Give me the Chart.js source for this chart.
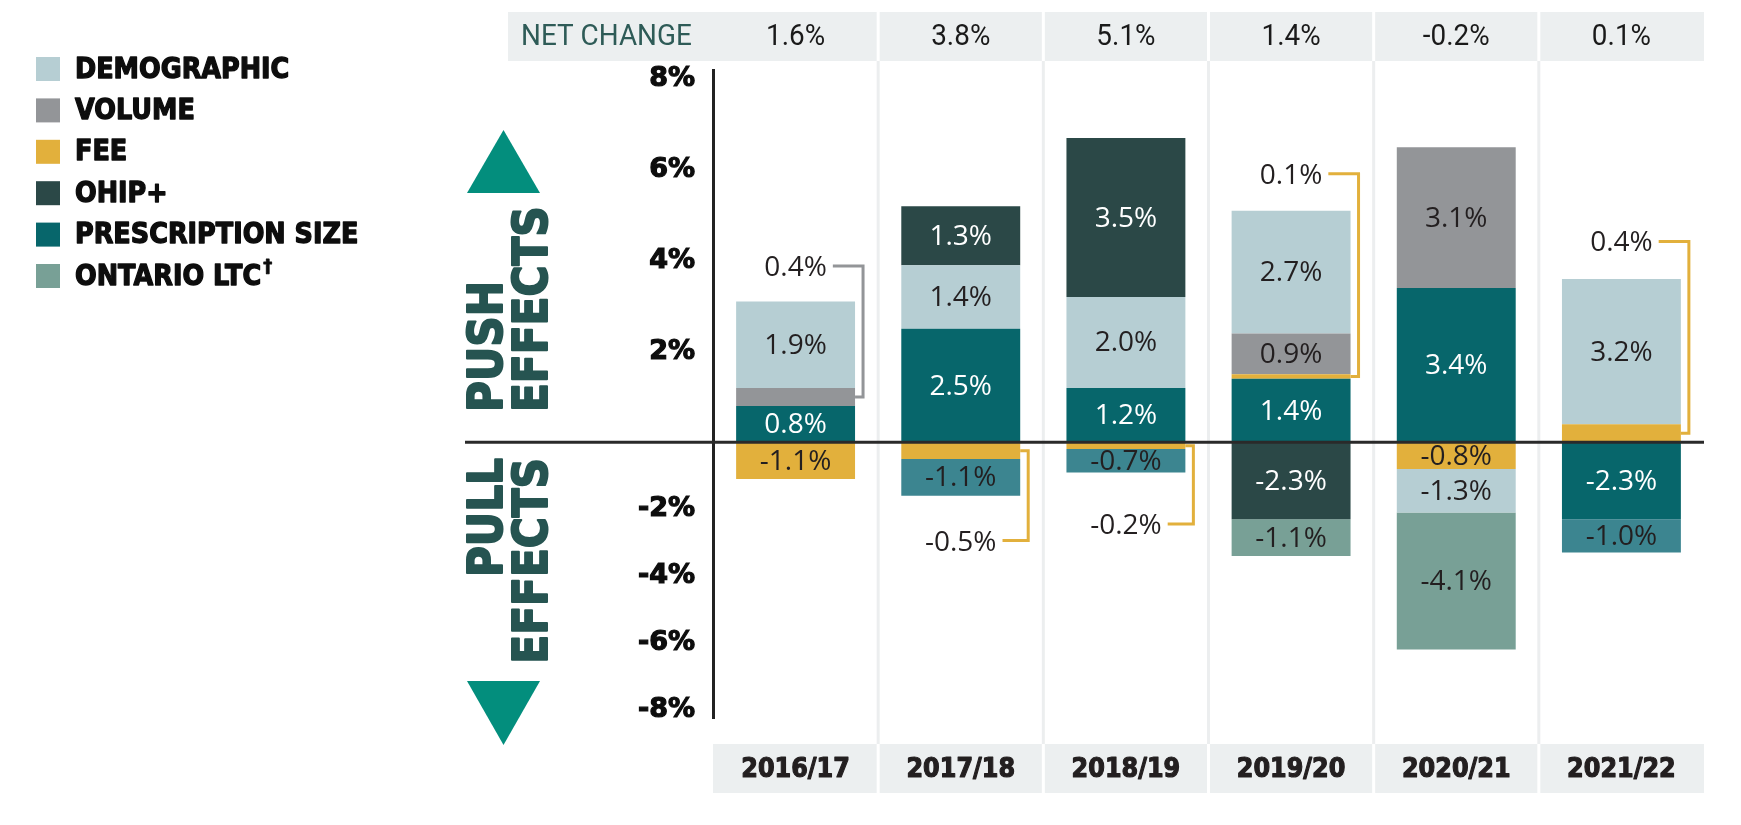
<!DOCTYPE html>
<html><head><meta charset="utf-8">
<script src="https://cdn.jsdelivr.net/npm/chart.js@4.4.1/dist/chart.umd.min.js"></script>
<style>html,body{margin:0;padding:0;background:#fff;}#wrap{width:1741px;height:825px;}</style>
</head><body><div id="wrap"><canvas id="c" width="1741" height="825"></canvas></div>
<script>
// ---------- data ----------
const years = ['2016/17', '2017/18', '2018/19', '2019/20', '2020/21', '2021/22'];
const netChange = [1.6, 3.8, 5.1, 1.4, -0.2, 0.1];
const prescriptionSize = [0.8, 2.5, 1.2, 1.4, 3.4, -2.3];
const fee = [-1.1, -0.5, -0.2, 0.1, -0.8, 0.4];
const volume = [0.4, null, null, 0.9, 3.1, null];
const demographic = [1.9, 1.4, 2.0, 2.7, -1.3, 3.2];
const ohipPlus = [null, 1.3, 3.5, -2.3, null, null];
const otherPull = [null, -1.1, -0.7, null, null, -1.0];
const ontarioLtc = [null, null, null, -1.1, -4.1, null];
const yTicks = [-8, -6, -4, -2, 2, 4, 6, 8];
const legendLabels = ['DEMOGRAPHIC', 'VOLUME', 'FEE', 'OHIP+', 'PRESCRIPTION SIZE', 'ONTARIO LTC†'];
// callouts: series, year index, level (%) where the label sits
const calloutSeries = ['VOLUME', 'FEE', 'FEE', 'FEE', 'FEE'];
const calloutYear = [0, 1, 2, 3, 5];
const calloutLevel = [3.84, -3.0, -2.5, 5.87, 4.38];

// ---------- piecewise scale: push side and pull side use different steps ----------
const LinearScale = Chart.LinearScale || Chart.registry.getScale('linear');
class PushPullScale extends LinearScale {
  _pp() { const r = this.options.negRatio; return { r, span: this.max + (-this.min) * r, z: (-this.min) * r }; }
  getPixelForValue(value) {
    if (value === null || value === undefined || isNaN(value)) return NaN;
    const { r, span, z } = this._pp();
    const t = value >= 0 ? (z + value) / span : (value - this.min) * r / span;
    return this.getPixelForDecimal(t);
  }
  getValueForPixel(pixel) {
    const { r, span, z } = this._pp();
    const t = this.getDecimalForPixel(pixel) * span;
    return t >= z ? t - z : t / r + this.min;
  }
}
PushPullScale.id = 'pushpull';
PushPullScale.defaults = Object.assign({}, LinearScale.defaults);
Chart.register(PushPullScale);

const COL = {
  pres: '#07666b', fee: '#e2b03c', vol: '#939598', dem: '#b6ced3',
  ohip: '#2b4847', other: '#3c8590', ltc: '#78a096'
};
const DARK = '#231f20';

const datasets = [
  { label: 'PRESCRIPTION SIZE', data: prescriptionSize, backgroundColor: COL.pres, labelColor: '#ffffff' },
  { label: 'FEE', data: fee, backgroundColor: COL.fee, labelColor: DARK },
  { label: 'VOLUME', data: volume, backgroundColor: COL.vol, labelColor: DARK },
  { label: 'DEMOGRAPHIC', data: demographic, backgroundColor: COL.dem, labelColor: DARK },
  { label: 'OHIP+', data: ohipPlus, backgroundColor: COL.ohip, labelColor: '#ffffff' },
  { label: 'OTHER', data: otherPull, backgroundColor: COL.other, labelColor: DARK },
  { label: 'ONTARIO LTC†', data: ontarioLtc, backgroundColor: COL.ltc, labelColor: DARK }
].map(d => Object.assign(d, { borderWidth: 0, barPercentage: 0.72, categoryPercentage: 1.0 }));

function txt(ctx, s, x, y, font, color, align, sx, stroke) {
  ctx.save();
  ctx.font = font; ctx.fillStyle = color; ctx.textAlign = align || 'left';
  ctx.textBaseline = 'middle';
  ctx.translate(x, y); ctx.scale(sx || 1, 1);
  if (stroke) { ctx.strokeStyle = color; ctx.lineWidth = stroke; ctx.lineJoin = 'round'; ctx.strokeText(s, 0, 0); }
  ctx.fillText(s, 0, 0);
  ctx.restore();
}
const fmt = v => v.toFixed(1) + '%';
const VALUE_FONT = '28px "Open Sans", "Noto Sans", sans-serif';
const HEAD_FONT = '30px Roboto, sans-serif';

const overlay = {
  id: 'overlay',
  beforeDatasetsDraw(chart) {
    const { ctx, scales: { x } } = chart;
    const half = (x.getPixelForValue(1) - x.getPixelForValue(0)) / 2;
    const b = years.map((_, i) => x.getPixelForValue(i) - half);
    b.push(x.getPixelForValue(years.length - 1) + half);
    ctx.save();
    // vertical separators
    ctx.strokeStyle = '#eceeef'; ctx.lineWidth = 3;
    for (let i = 1; i < years.length; i++) {
      ctx.beginPath(); ctx.moveTo(b[i], 61); ctx.lineTo(b[i], 744); ctx.stroke();
    }
    // net change header row
    ctx.fillStyle = '#eceff0';
    for (let i = 0; i < years.length; i++) {
      const l = i === 0 ? 508 : b[i] + 1.5;
      const r = i === years.length - 1 ? b[i + 1] : b[i + 1] - 1.5;
      ctx.fillRect(l, 12, r - l, 49);
    }
    // year footer row
    for (let i = 0; i < years.length; i++) {
      const l = i === 0 ? b[0] : b[i] + 1.5;
      const r = i === years.length - 1 ? b[i + 1] : b[i + 1] - 1.5;
      ctx.fillRect(l, 744, r - l, 49);
    }
    ctx.restore();
    txt(ctx, 'NET CHANGE', 521, 37, HEAD_FONT, '#2e5b57', 'left', 0.93);
    netChange.forEach((v, i) => txt(ctx, fmt(v), x.getPixelForValue(i), 37, HEAD_FONT, '#1a1a1a', 'center', 0.93));
    years.forEach((yr, i) => txt(ctx, yr, x.getPixelForValue(i), 770, 'bold 26px "DejaVu Sans", sans-serif', DARK, 'center', 0.92, 1.2));
  },
  afterDatasetsDraw(chart) {
    const { ctx, chartArea: ca, scales: { y } } = chart;
    const isCallout = (label, i) => calloutSeries.some((s, k) => s === label && calloutYear[k] === i);
    // segment labels
    chart.data.datasets.forEach((ds, di) => {
      const meta = chart.getDatasetMeta(di);
      ds.data.forEach((v, i) => {
        if (v === null || isCallout(ds.label, i)) return;
        const el = meta.data[i];
        txt(ctx, fmt(v), el.x, (el.y + el.base) / 2 + 1, VALUE_FONT, ds.labelColor, 'center');
      });
    });
    // callouts
    calloutSeries.forEach((s, k) => {
      const di = chart.data.datasets.findIndex(d => d.label === s);
      const ds = chart.data.datasets[di];
      const i = calloutYear[k];
      const el = chart.getDatasetMeta(di).data[i];
      const v = ds.data[i];
      const ty = y.getPixelForValue(calloutLevel[k]);
      ctx.save(); ctx.font = VALUE_FONT;
      const tw = ctx.measureText(fmt(v)).width;
      ctx.restore();
      txt(ctx, fmt(v), el.x, ty, VALUE_FONT, DARK, 'center');
      const right = el.x + el.width / 2;
      const segY = (el.y + el.base) / 2;
      ctx.save();
      ctx.strokeStyle = ds.backgroundColor; ctx.lineWidth = 3; ctx.lineJoin = 'miter';
      ctx.beginPath();
      ctx.moveTo(el.x + tw / 2 + 6, ty - 2);
      ctx.lineTo(right + 8, ty - 2);
      ctx.lineTo(right + 8, segY);
      ctx.lineTo(right, segY);
      ctx.stroke();
      ctx.restore();
    });
    // zero line
    const z = y.getPixelForValue(0);
    ctx.save();
    ctx.strokeStyle = '#2a2a2a'; ctx.lineWidth = 3;
    ctx.beginPath(); ctx.moveTo(465, z); ctx.lineTo(ca.right, z); ctx.stroke();
    ctx.restore();
  },
  afterDraw(chart) {
    const { ctx } = chart;
    // legend
    legendLabels.forEach((lab, i) => {
      const ds = chart.data.datasets.find(d => d.label === lab);
      const top = 57 + i * 41.4;
      ctx.fillStyle = ds.backgroundColor;
      ctx.fillRect(36, top, 24, 24);
      const main = lab.replace('†', '');
      const font = 'bold 29px "DejaVu Sans", sans-serif';
      txt(ctx, main, 75, top + 13, font, '#0d0d0d', 'left', 0.88, 1.4);
      if (lab.includes('†')) {
        ctx.save(); ctx.font = font;
        const w = ctx.measureText(main).width * 0.88;
        ctx.restore();
        txt(ctx, '†', 75 + w + 2, top + 3, 'bold 18px "DejaVu Sans", sans-serif', '#0d0d0d', 'left', 1, 0.8);
      }
    });
    // push / pull side labels
    const side = (s, x, y0, align) => {
      ctx.save();
      ctx.translate(x, y0); ctx.rotate(-Math.PI / 2); ctx.scale(0.88, 1);
      ctx.font = 'bold 48px "DejaVu Sans", sans-serif';
      ctx.fillStyle = '#265451'; ctx.strokeStyle = '#265451'; ctx.lineWidth = 2; ctx.lineJoin = 'round';
      ctx.textAlign = align; ctx.textBaseline = 'alphabetic';
      ctx.strokeText(s, 0, 0);
      ctx.fillText(s, 0, 0);
      ctx.restore();
    };
    side('PUSH', 502, 412, 'left');
    side('EFFECTS', 547, 412, 'left');
    side('PULL', 502, 458, 'right');
    side('EFFECTS', 547, 458, 'right');
    // arrows
    ctx.save();
    ctx.fillStyle = '#038e7d';
    ctx.beginPath(); ctx.moveTo(503.5, 130); ctx.lineTo(467, 193); ctx.lineTo(540, 193); ctx.closePath(); ctx.fill();
    ctx.beginPath(); ctx.moveTo(467, 681); ctx.lineTo(540, 681); ctx.lineTo(503.5, 745); ctx.closePath(); ctx.fill();
    ctx.restore();
  }
};

new Chart(document.getElementById('c'), {
  type: 'bar',
  data: { labels: years, datasets },
  options: {
    responsive: false,
    animation: false,
    layout: { padding: { left: 0, right: 37, top: 70, bottom: 107 } },
    plugins: { legend: { display: false }, tooltip: { enabled: false } },
    scales: {
      x: { type: 'category', stacked: true, offset: true, display: false },
      y: {
        type: 'pushpull', negRatio: 0.7357, stacked: true, min: -8.25, max: 8.2, bounds: 'data',
        afterBuildTicks: s => { s.ticks = yTicks.map(v => ({ value: v })); },
        afterFit: s => { s.width = 713; },
        grid: { display: true, drawOnChartArea: false, drawTicks: false, color: 'rgba(0,0,0,0)' },
        border: { display: true, color: '#222222', width: 3 },
        ticks: {
          padding: 18, color: '#0d0d0d', textStrokeColor: '#0d0d0d', textStrokeWidth: 1.2,
          font: { family: '"DejaVu Sans", sans-serif', size: 27, weight: 'bold' },
          callback: v => v + '%'
        }
      }
    }
  },
  plugins: [overlay]
});
</script></body></html>
